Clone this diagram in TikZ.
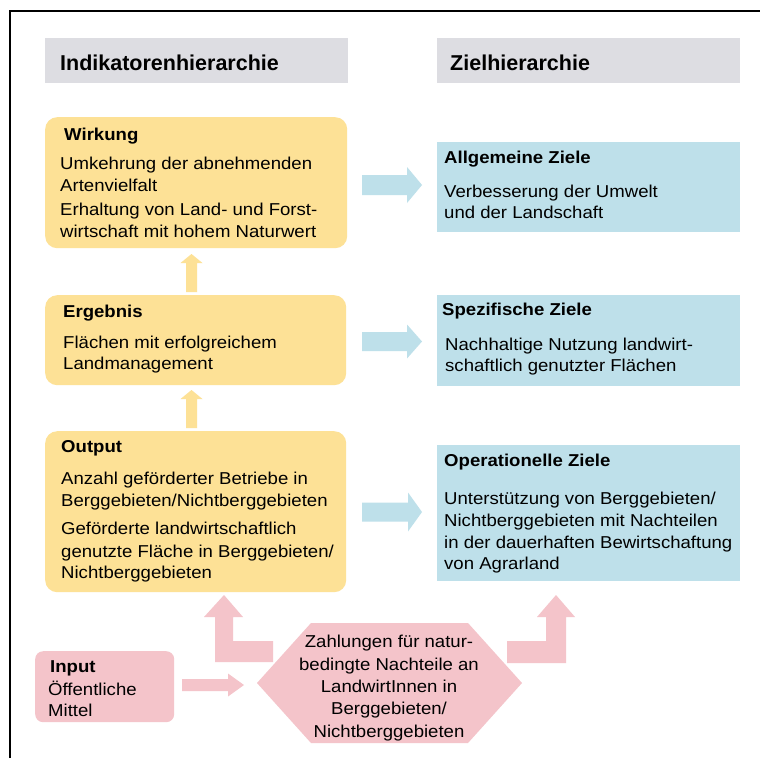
\documentclass[tikz,border=0pt]{standalone}
\usepackage{fontspec}
\setmainfont{Liberation Sans}
\newfontfamily\bodyfont[FakeStretch=1.08]{Liberation Sans}
\definecolor{boxyellow}{RGB}{253,225,150}
\definecolor{boxpink}{RGB}{244,196,202}
\definecolor{boxblue}{RGB}{190,224,234}
\definecolor{boxgray}{RGB}{221,221,226}
\newcommand\rblock[7]{% color, x0, x1(head base), xtip, yc, half shaft, half head
  \fill[#1] (#2,#5-#6) -- (#3,#5-#6) -- (#3,#5-#7) -- (#4,#5) -- (#3,#5+#7) -- (#3,#5+#6) -- (#2,#5+#6) -- cycle;}
\newcommand\ublock[7]{% color, y0(bottom), y1(head base), ytip, xc, half shaft, half head
  \fill[#1] (#5-#6,#2) -- (#5-#6,#3) -- (#5-#7,#3) -- (#5,#4) -- (#5+#7,#3) -- (#5+#6,#3) -- (#5+#6,#2) -- cycle;}
\begin{document}
\begin{tikzpicture}[x=1pt,y=-1pt,
  txt/.style={anchor=base west, inner sep=0pt, font=\bodyfont\fontsize{17.2}{22}\selectfont},
  hd/.style={anchor=base west, inner sep=0pt, font=\bodyfont\bfseries\fontsize{17.2}{22}\selectfont},
  ctxt/.style={anchor=base, inner sep=0pt, font=\bodyfont\fontsize{17.2}{22}\selectfont},
  ttl/.style={anchor=base west, inner sep=0pt, font=\bfseries\fontsize{21.5}{26}\selectfont},
  ybox/.style={anchor=north west, fill=boxyellow, rounded corners=12pt, inner sep=0pt},
  bbox/.style={anchor=north west, fill=boxblue, inner sep=0pt},
  gbox/.style={anchor=north west, fill=boxgray, inner sep=0pt},
  pbox/.style={anchor=north west, fill=boxpink, rounded corners=8pt, inner sep=0pt}]
\useasboundingbox (0,0) rectangle (760,758);
\fill[white] (0,0) rectangle (760,758);
\draw[line width=2pt] (10,758) -- (10,11) -- (760,11);

% headers
\node[gbox, minimum width=303pt, minimum height=45pt] (hl) at (45,38) {};
\node[gbox, minimum width=303pt, minimum height=45pt] (hr) at (437,38) {};
\node[ttl] (hlt) at (60,70) {Indikatorenhierarchie};
\node[ttl] (hrt) at (450,70) {Zielhierarchie};

% left boxes
\node[ybox, minimum width=302pt, minimum height=131pt] (wirk) at (45,117) {};
\node[ybox, minimum width=301pt, minimum height=90pt] (erg) at (45,295) {};
\node[ybox, minimum width=301pt, minimum height=161pt] (out) at (45,431) {};
\node[pbox, minimum width=139pt, minimum height=71pt] (inp) at (35,651) {};

% right boxes
\node[bbox, minimum width=303pt, minimum height=90pt] (allg) at (437,142) {};
\node[bbox, minimum width=303pt, minimum height=91pt] (spez) at (437,295) {};
\node[bbox, minimum width=303pt, minimum height=136pt] (oper) at (437,445) {};

% hexagon
\fill[boxpink] (257,683) -- (311,623) -- (468,623) -- (522,683) -- (468,743) -- (311,743) -- cycle;
\coordinate (hex) at (389.5,683);

% texts left
\node[hd] (w0) at (64,140) {Wirkung};
\node[txt] (w1) at (60,169) {Umkehrung der abnehmenden};
\node[txt] (w2) at (60,191) {Artenvielfalt};
\node[txt] (w3) at (60,215) {Erhaltung von Land- und Forst-};
\node[txt] (w4) at (60,237) {wirtschaft mit hohem Naturwert};

\node[hd] (e0) at (63,317) {Ergebnis};
\node[txt] (e1) at (63,348) {Flächen mit erfolgreichem};
\node[txt] (e2) at (63,369) {Landmanagement};

\node[hd] (o0) at (61,452) {Output};
\node[txt] (o1) at (61,484) {Anzahl geförderter Betriebe in};
\node[txt] (o2) at (61,506) {Berggebieten/Nichtberggebieten};
\node[txt] (o3) at (61,534) {Geförderte landwirtschaftlich};
\node[txt] (o4) at (61,557) {genutzte Fläche in Berggebieten/};
\node[txt] (o5) at (61,578) {Nichtberggebieten};

\node[hd] (i0) at (50,672) {Input};
\node[txt] (i1) at (48,695) {Öffentliche};
\node[txt] (i2) at (48,716) {Mittel};

% texts right
\node[hd] (a0) at (444,163) {Allgemeine Ziele};
\node[txt] (a1) at (444,197) {Verbesserung der Umwelt};
\node[txt] (a2) at (444,218) {und der Landschaft};

\node[hd] (s0) at (442,315) {Spezifische Ziele};
\node[txt] (s1) at (445,350) {Nachhaltige Nutzung landwirt-};
\node[txt] (s2) at (445,371) {schaftlich genutzter Flächen};

\node[hd] (p0) at (444,466) {Operationelle Ziele};
\node[txt] (p1) at (444,504) {Unterstützung von Berggebieten/};
\node[txt] (p2) at (444,526) {Nichtberggebieten mit Nachteilen};
\node[txt] (p3) at (444,548) {in der dauerhaften Bewirtschaftung};
\node[txt] (p4) at (444,569) {von Agrarland};

% hexagon text
\node[ctxt] (h1) at (389,647) {Zahlungen für natur-};
\node[ctxt] (h2) at (389,670) {bedingte Nachteile an};
\node[ctxt] (h3) at (389,692) {LandwirtInnen in};
\node[ctxt] (h4) at (389,714) {Berggebieten/};
\node[ctxt] (h5) at (389,737) {Nichtberggebieten};

% yellow up arrows
\ublock{boxyellow}{292}{263}{254}{191.5}{5.5}{11}
\ublock{boxyellow}{428}{399}{390}{191.5}{5.5}{11}

% blue right arrows
\rblock{boxblue}{362}{407}{422}{185}{10}{18}
\rblock{boxblue}{362}{407}{422}{341.5}{9.5}{17}
\rblock{boxblue}{362}{408}{422}{512}{9.5}{19.5}

% pink arrows
\rblock{boxpink}{182}{228}{244}{685}{6}{11.5}
\fill[boxpink] (215,662) -- (273,662) -- (273,641) -- (233,641) -- (233,617) -- (243,617) -- (224,595) -- (204,617) -- (215,617) -- cycle;
\fill[boxpink] (507,641) -- (546,641) -- (546,617) -- (537,617) -- (556,595) -- (575,617) -- (566,617) -- (566,663) -- (507,663) -- cycle;
\end{tikzpicture}
\end{document}
